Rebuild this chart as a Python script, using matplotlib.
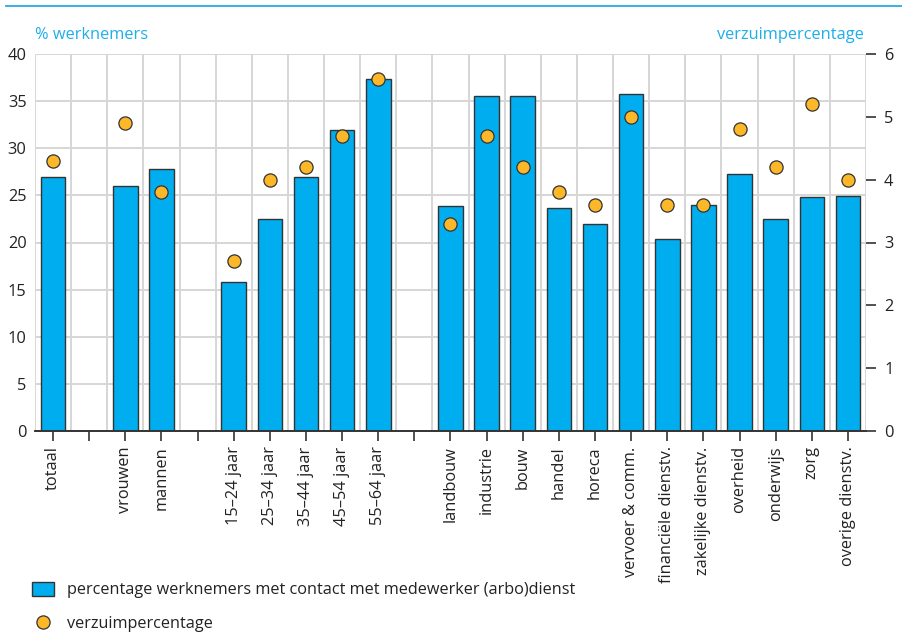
import numpy as np
import matplotlib.pyplot as plt
from matplotlib.lines import Line2D
from matplotlib.patches import Patch

plt.rcParams['font.family'] = ['Open Sans', 'DejaVu Sans']

# categorieën (lege strings = witruimte tussen groepen)
categories = ['totaal', '', 'vrouwen', 'mannen', '',
              '15–24 jaar', '25–34 jaar', '35–44 jaar', '45–54 jaar', '55–64 jaar', '',
              'landbouw', 'industrie', 'bouw', 'handel', 'horeca', 'vervoer & comm.',
              'financiële dienstv.', 'zakelijke dienstv.', 'overheid', 'onderwijs',
              'zorg', 'overige dienstv.']

# % werknemers met contact met medewerker (arbo)dienst
contact = [26.9, None, 26.0, 27.8, None,
           15.8, 22.5, 26.9, 31.9, 37.3, None,
           23.9, 35.5, 35.5, 23.7, 22.0, 35.8, 20.4, 24.0, 27.3, 22.5, 24.8, 24.9]

# verzuimpercentage
verzuim = [4.3, None, 4.9, 3.8, None,
           2.7, 4.0, 4.2, 4.7, 5.6, None,
           3.3, 4.7, 4.2, 3.8, 3.6, 5.0, 3.6, 3.6, 4.8, 4.2, 5.2, 4.0]

blue = '#00aeef'
orange = '#fdb82a'
title_blue = '#1eaee8'
edge = '#333333'
grid = '#d6d6d6'

x = np.arange(len(categories))
bar_x = [i for i, v in zip(x, contact) if v is not None]
bar_h = [v for v in contact if v is not None]
dot_x = [i for i, v in zip(x, verzuim) if v is not None]
dot_y = [v for v in verzuim if v is not None]

fig = plt.figure(figsize=(9.03, 6.34), dpi=100)
ax = fig.add_axes([35 / 903, 1 - 431 / 634, (866 - 35) / 903, (431 - 54) / 634])
ax2 = ax.twinx()

ax.bar(bar_x, bar_h, width=0.68, color=blue, edgecolor=edge, linewidth=1.0, zorder=2)
ax2.plot(dot_x, dot_y, 'o', ms=9.5, mfc=orange, mec=edge, mew=0.9, zorder=3)

ax.set_xlim(-0.5, len(categories) - 0.5)
ax.set_ylim(0, 40)
ax2.set_ylim(0, 6)
ax.set_yticks(np.arange(0, 41, 5))
ax2.set_yticks(np.arange(0, 7, 1))

ax.set_xticks(x)
ax.set_xticklabels(categories, rotation=90, fontsize=11.8, color='#222222')
ax.set_xticks(np.arange(-0.5, len(categories)), minor=True)
ax.grid(True, which='minor', axis='x', color=grid, lw=1.4)
ax.grid(True, which='major', axis='y', color=grid, lw=1.4)
ax.tick_params(axis='x', which='major', direction='out', length=7, width=1.2, color=edge, pad=4)
ax.tick_params(axis='x', which='minor', length=0)
ax.tick_params(axis='y', length=0, labelsize=11.8, labelcolor='#222222', pad=6)
ax2.tick_params(axis='y', direction='out', length=7, width=1.2, color=edge,
                labelsize=11.8, labelcolor='#222222', pad=6)
ax.set_axisbelow(True)

for a in (ax, ax2):
    for s in ('top', 'left', 'right'):
        a.spines[s].set_visible(False)
    a.spines['bottom'].set_color(edge)
    a.spines['bottom'].set_linewidth(1.2)

fig.text(35 / 903, 1 - 35 / 634, '% werknemers', color=title_blue, fontsize=11.8,
         ha='left', va='center')
fig.text(864 / 903, 1 - 35 / 634, 'verzuimpercentage', color=title_blue, fontsize=11.8,
         ha='right', va='center')

# lijn bovenaan
fig.add_artist(Line2D([6 / 903, 1], [1 - 6 / 634, 1 - 6 / 634], color='#29abe2', lw=1.3))

handles = [Patch(facecolor=blue, edgecolor=edge, lw=1.0),
           Line2D([], [], ls='', marker='o', ms=9.5, mfc=orange, mec=edge, mew=0.9)]
labels = ['percentage werknemers met contact met medewerker (arbo)dienst', 'verzuimpercentage']
fig.legend(handles, labels, loc='upper left', bbox_to_anchor=(17 / 903, 1 - 567 / 634),
           frameon=False, fontsize=11.7, labelspacing=1.05, handlelength=1.4,
           handleheight=0.95, handletextpad=0.75, labelcolor='#222222')

fig.savefig('out.png', dpi=100)
